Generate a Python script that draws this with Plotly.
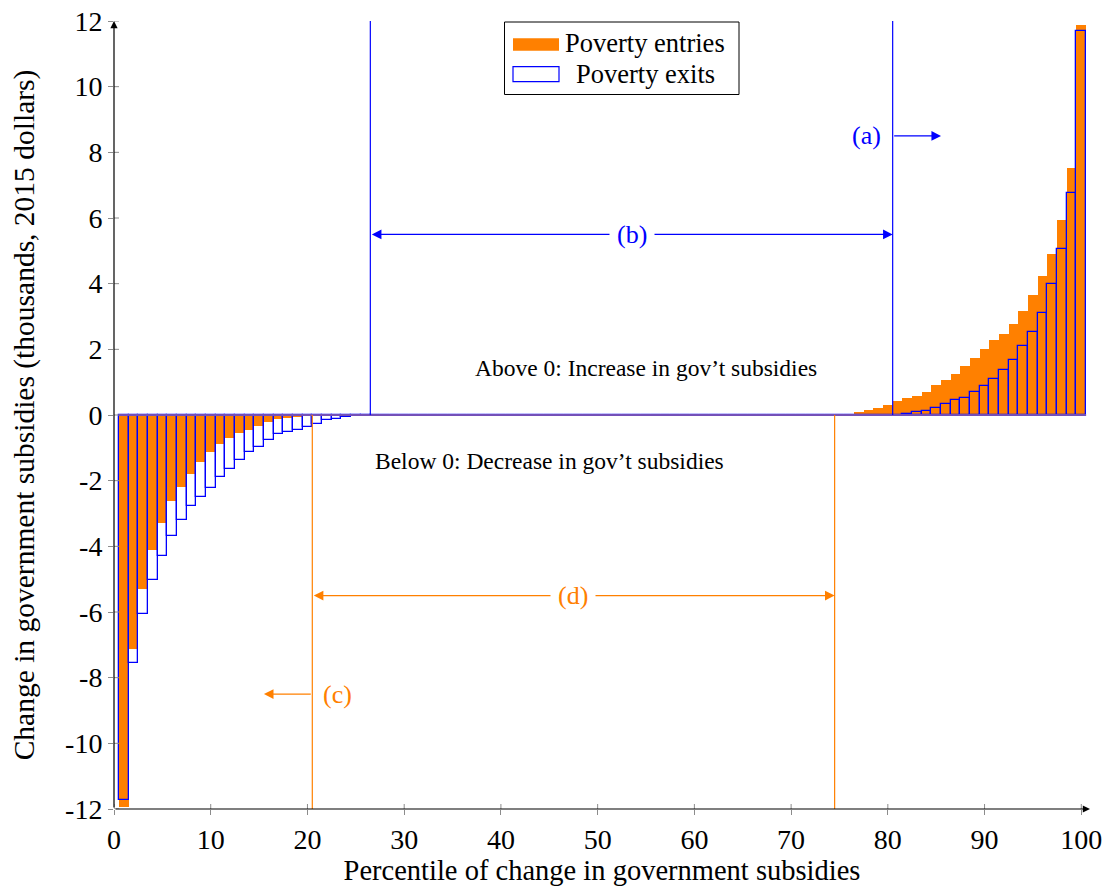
import plotly.graph_objects as go

# Percentile of change in government subsidies (one bar per percentile)
percentiles = list(range(1, 101))

# Change in subsidies, thousands of 2015 dollars
poverty_entries = [
    -11.95, -7.12, -5.30, -4.11, -3.29, -2.62, -2.20, -1.79, -1.43, -1.13,
    -0.88, -0.70, -0.55, -0.46, -0.32, -0.21, -0.13, -0.08, -0.05, -0.03,
    0.0, 0.0, 0.0, 0.0, 0.0, 0.0, 0.0, 0.0, 0.0, 0.0,
    0.0, 0.0, 0.0, 0.0, 0.0, 0.0, 0.0, 0.0, 0.0, 0.0,
    0.0, 0.0, 0.0, 0.0, 0.0, 0.0, 0.0, 0.0, 0.0, 0.0,
    0.0, 0.0, 0.0, 0.0, 0.0, 0.0, 0.0, 0.0, 0.0, 0.0,
    0.0, 0.0, 0.0, 0.0, 0.0, 0.0, 0.0, 0.0, 0.0, 0.0,
    0.0, 0.0, 0.0, 0.0, 0.01, 0.03, 0.08, 0.14, 0.21, 0.31,
    0.42, 0.51, 0.57, 0.71, 0.90, 1.08, 1.25, 1.50, 1.73, 2.00,
    2.27, 2.48, 2.78, 3.16, 3.64, 4.24, 4.91, 5.93, 7.51, 11.87,
]

poverty_exits = [
    -11.74, -7.54, -6.05, -5.01, -4.30, -3.68, -3.19, -2.76, -2.50, -2.21,
    -1.89, -1.63, -1.36, -1.13, -0.97, -0.77, -0.57, -0.52, -0.47, -0.37,
    -0.26, -0.16, -0.11, -0.07, -0.04, -0.02, 0.0, 0.0, 0.0, 0.0,
    0.0, 0.0, 0.0, 0.0, 0.0, 0.0, 0.0, 0.0, 0.0, 0.0,
    0.0, 0.0, 0.0, 0.0, 0.0, 0.0, 0.0, 0.0, 0.0, 0.0,
    0.0, 0.0, 0.0, 0.0, 0.0, 0.0, 0.0, 0.0, 0.0, 0.0,
    0.0, 0.0, 0.0, 0.0, 0.0, 0.0, 0.0, 0.0, 0.0, 0.0,
    0.0, 0.0, 0.0, 0.0, 0.0, 0.0, 0.0, 0.0, 0.0, 0.0,
    0.01, 0.04, 0.08, 0.13, 0.22, 0.34, 0.45, 0.53, 0.69, 0.89,
    1.10, 1.37, 1.69, 2.10, 2.53, 3.10, 4.00, 5.06, 6.77, 11.69,
]

x_ticks = [0, 10, 20, 30, 40, 50, 60, 70, 80, 90, 100]
x_tick_labels = ["0", "10", "20", "30", "40", "50", "60", "70", "80", "90", "100"]
y_ticks = [-12, -10, -8, -6, -4, -2, 0, 2, 4, 6, 8, 10, 12]
y_tick_labels = ["-12", "-10", "-8", "-6", "-4", "-2", "0", "2", "4", "6", "8", "10", "12"]

series_names = ["Poverty entries", "Poverty exits"]
x_title = "Percentile of change in government subsidies"
y_title = "Change in government subsidies (thousands, 2015 dollars)"
note_above = "Above 0: Increase in gov\u2019t subsidies"
note_below = "Below 0: Decrease in gov\u2019t subsidies"

ORANGE = "#FF8000"
BLUE = "#0000FF"
FONT = "Liberation Serif"

W, H = 1108, 886
M_L, M_R, M_T, M_B = 114, 18, 21, 77
X_RANGE = [0, 100.9]
Y_RANGE = [-12, 12]

# Boundaries of the non-zero ranges of each series (bar edges)
entries_neg_end = max(p for p, v in zip(percentiles, poverty_entries) if v < 0) + 0.5
entries_pos_start = min(p for p, v in zip(percentiles, poverty_entries) if v > 0) - 0.5
exits_neg_end = max(p for p, v in zip(percentiles, poverty_exits) if v < 0) + 0.5
exits_pos_start = min(p for p, v in zip(percentiles, poverty_exits) if v > 0) - 0.5

fig = go.Figure()
fig.add_bar(
    x=percentiles, y=poverty_entries, width=1, name=series_names[0],
    marker=dict(color=ORANGE, line=dict(width=0)), showlegend=False,
)
fig.add_bar(
    x=percentiles, y=poverty_exits, width=1, name=series_names[1],
    marker=dict(color="rgba(0,0,0,0)", line=dict(color=BLUE, width=1.3)),
    showlegend=False,
)

plot_w = W - M_L - M_R
plot_h = H - M_T - M_B


def px_x(px):
    return (px - M_L) / plot_w


def px_y(py):
    return (H - M_B - py) / plot_h


shapes = []
# zero-valued bars collapse onto the baseline
shapes.append(dict(type="line", xref="x", yref="y", x0=0.5, x1=100.5, y0=0, y1=0,
                   line=dict(color="#7450b8", width=2), layer="above"))
# boundary lines
for xv in (exits_neg_end, exits_pos_start):
    shapes.append(dict(type="line", xref="x", yref="y", x0=xv, x1=xv, y0=0, y1=Y_RANGE[1],
                       line=dict(color=BLUE, width=1.2)))
for xv in (entries_neg_end, entries_pos_start):
    shapes.append(dict(type="line", xref="x", yref="y", x0=xv, x1=xv, y0=0, y1=Y_RANGE[0],
                       line=dict(color=ORANGE, width=1.2)))
# inner halves of the tick marks
for xv in x_ticks:
    shapes.append(dict(type="line", xref="x", yref="y", xsizemode="scaled",
                       ysizemode="pixel", yanchor=Y_RANGE[0], x0=xv, x1=xv, y0=0, y1=5,
                       line=dict(color="#8c8c8c", width=1)))
for yv in y_ticks:
    shapes.append(dict(type="line", xref="x", yref="y", xsizemode="pixel",
                       xanchor=X_RANGE[0], x0=0, x1=5, y0=yv, y1=yv,
                       line=dict(color="#8c8c8c", width=1)))

# legend box
shapes.append(dict(type="rect", xref="paper", yref="paper",
                   x0=px_x(504.5), x1=px_x(739), y0=px_y(94.5), y1=px_y(22),
                   line=dict(color="black", width=1), fillcolor="white", layer="above"))
shapes.append(dict(type="rect", xref="paper", yref="paper",
                   x0=px_x(513), x1=px_x(559), y0=px_y(50.7), y1=px_y(38.3),
                   line=dict(width=0), fillcolor=ORANGE, layer="above"))
shapes.append(dict(type="rect", xref="paper", yref="paper",
                   x0=px_x(513), x1=px_x(559), y0=px_y(81.7), y1=px_y(66.7),
                   line=dict(color=BLUE, width=1.2), fillcolor="white", layer="above"))

ann = []
arrow_common = dict(xref="x", yref="y", axref="x", ayref="y", text="", showarrow=True,
                    arrowhead=2, arrowsize=1.6, arrowwidth=1.2, standoff=0, startstandoff=0)

# axis lines with arrow tips
ann.append(dict(arrow_common, x=X_RANGE[1], y=Y_RANGE[0], ax=X_RANGE[0], ay=Y_RANGE[0],
                arrowcolor="black", arrowhead=2, arrowsize=1.2))
ann.append(dict(arrow_common, x=X_RANGE[0], y=Y_RANGE[1], ax=X_RANGE[0], ay=Y_RANGE[0],
                arrowcolor="black", arrowhead=2, arrowsize=1.2))

# (a) and (b): exits
ann.append(dict(arrow_common, x=exits_pos_start + 5, y=8.5, ax=exits_pos_start, ay=8.5,
                arrowcolor=BLUE))
ann.append(dict(xref="x", yref="y", x=exits_pos_start, y=8.5, text="(a)", showarrow=False,
                xanchor="right", yanchor="middle", xshift=-10,
                font=dict(family=FONT, size=26, color=BLUE)))
ann.append(dict(arrow_common, x=exits_pos_start, y=5.5, ax=exits_neg_end, ay=5.5,
                arrowcolor=BLUE, arrowside="end+start"))
ann.append(dict(xref="x", yref="y", x=(exits_pos_start + exits_neg_end) / 2, y=5.5,
                text="(b)", showarrow=False, bgcolor="white", borderpad=7,
                xanchor="center", yanchor="middle",
                font=dict(family=FONT, size=26, color=BLUE)))

# (c) and (d): entries
ann.append(dict(arrow_common, x=entries_neg_end - 5, y=-8.5, ax=entries_neg_end, ay=-8.5,
                arrowcolor=ORANGE))
ann.append(dict(xref="x", yref="y", x=entries_neg_end, y=-8.5, text="(c)", showarrow=False,
                xanchor="left", yanchor="middle", xshift=9,
                font=dict(family=FONT, size=26, color=ORANGE)))
ann.append(dict(arrow_common, x=entries_pos_start, y=-5.5, ax=entries_neg_end, ay=-5.5,
                arrowcolor=ORANGE, arrowside="end+start"))
ann.append(dict(xref="x", yref="y", x=(entries_pos_start + entries_neg_end) / 2, y=-5.5,
                text="(d)", showarrow=False, bgcolor="white", borderpad=7,
                xanchor="center", yanchor="middle",
                font=dict(family=FONT, size=26, color=ORANGE)))

# notes on either side of zero
ann.append(dict(xref="x", yref="y", x=55, y=1.42, text=note_above, showarrow=False,
                xanchor="center", yanchor="middle",
                font=dict(family=FONT, size=23.5, color="black")))
ann.append(dict(xref="x", yref="y", x=45, y=-1.41, text=note_below, showarrow=False,
                xanchor="center", yanchor="middle",
                font=dict(family=FONT, size=23.5, color="black")))

# legend entries
ann.append(dict(xref="paper", yref="paper", x=px_x(645), y=px_y(43), text=series_names[0],
                showarrow=False, xanchor="center", yanchor="middle",
                font=dict(family=FONT, size=26.5, color="black")))
ann.append(dict(xref="paper", yref="paper", x=px_x(645), y=px_y(74), text=series_names[1],
                showarrow=False, xanchor="center", yanchor="middle",
                font=dict(family=FONT, size=26.5, color="black")))

fig.update_layout(
    width=W, height=H, autosize=False,
    margin=dict(l=M_L, r=M_R, t=M_T, b=M_B, pad=0, autoexpand=False),
    paper_bgcolor="white", plot_bgcolor="white",
    barmode="overlay", bargap=0,
    font=dict(family=FONT, size=28, color="black"),
    shapes=shapes, annotations=ann,
    xaxis=dict(range=X_RANGE, tickvals=x_ticks, ticktext=x_tick_labels,
               ticks="outside", ticklen=5, tickcolor="#8c8c8c", tickwidth=1,
               showgrid=False, zeroline=False, showline=False, automargin=False,
               tickfont=dict(family=FONT, size=28),
               title=dict(text=x_title, font=dict(family=FONT, size=28.5), standoff=3)),
    yaxis=dict(range=Y_RANGE, tickvals=y_ticks, ticktext=y_tick_labels,
               ticks="outside", ticklen=5, tickcolor="#8c8c8c", tickwidth=1,
               showgrid=False, zeroline=False, showline=False, automargin=False,
               tickfont=dict(family=FONT, size=28),
               title=dict(text=y_title, font=dict(family=FONT, size=29.5), standoff=21)),
)

fig.write_html("out.html")
